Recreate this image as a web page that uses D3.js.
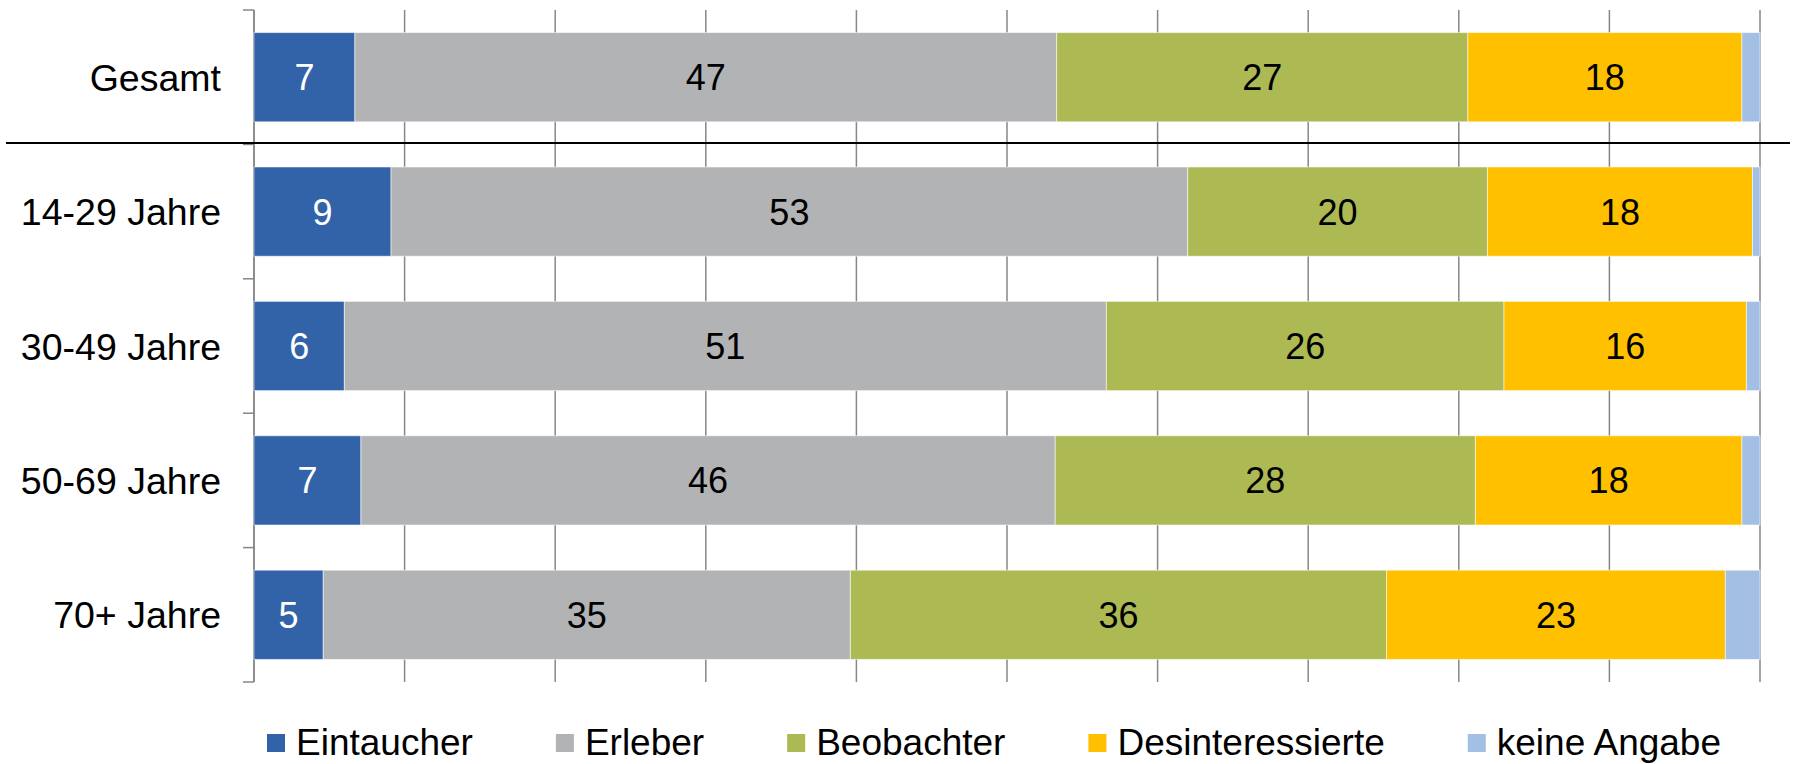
<!DOCTYPE html>
<html>
<head>
<meta charset="utf-8">
<script src="https://cdn.jsdelivr.net/npm/d3@7"></script>
<style>
  body { margin: 0; background: #fff; }
  text { font-family: "Liberation Sans", Arial, sans-serif; }
</style>
</head>
<body>
<script>
const categories = ["Gesamt", "14-29 Jahre", "30-49 Jahre", "50-69 Jahre", "70+ Jahre"];
const seriesNames = ["Eintaucher", "Erleber", "Beobachter", "Desinteressierte", "keine Angabe"];
const eintaucher = [6.7, 9.1, 6.0, 7.1, 4.6];
const erleber = [46.6, 52.9, 50.6, 46.1, 35.0];
const beobachter = [27.3, 19.9, 26.4, 27.9, 35.6];
const desinteressierte = [18.2, 17.6, 16.1, 17.7, 22.5];
const keineAngabe = [1.2, 0.5, 0.9, 1.2, 2.3];
const xTicks = [0, 10, 20, 30, 40, 50, 60, 70, 80, 90, 100];

const colors = ["#3263A8", "#B2B3B5", "#ADB953", "#FFC000", "#A4BFE4"];
const labelColors = ["#fff", "#000", "#000", "#000", null];

const W = 1794, H = 764;
const margin = { top: 10, bottom: 82, left: 254, right: 34 };

const svg = d3.select("body").append("svg")
  .attr("width", W)
  .attr("height", H);

// table for the stack
const allSeries = [eintaucher, erleber, beobachter, desinteressierte, keineAngabe];
const rows = categories.map((c, i) => {
  const r = { cat: c };
  seriesNames.forEach((s, j) => { r[s] = allSeries[j][i]; });
  return r;
});
const stacked = d3.stack().keys(seriesNames)(rows);

// scales
const x = d3.scaleLinear().domain([0, 100]).range([margin.left, W - margin.right]);
const y = d3.scaleBand().domain(categories)
  .range([margin.top, H - margin.bottom])
  .paddingInner(0.336)
  .paddingOuter(0.168);

// vertical gridlines
svg.append("g")
  .selectAll("line")
  .data(xTicks)
  .join("line")
  .attr("x1", d => x(d))
  .attr("x2", d => x(d))
  .attr("y1", margin.top)
  .attr("y2", H - margin.bottom)
  .attr("stroke", "#878787")
  .attr("stroke-width", 1.5);

// left axis with category boundary ticks
const bounds = categories.map(c => y(c) - y.step() * y.paddingInner() / 2);
bounds.push(H - margin.bottom);
bounds[0] = margin.top;
const axisG = svg.append("g");
axisG.append("line")
  .attr("x1", x(0)).attr("x2", x(0))
  .attr("y1", margin.top).attr("y2", H - margin.bottom)
  .attr("stroke", "#878787").attr("stroke-width", 1.5);
axisG.selectAll("line.tick")
  .data(bounds)
  .join("line")
  .attr("class", "tick")
  .attr("x1", x(0) - 11).attr("x2", x(0))
  .attr("y1", d => d).attr("y2", d => d)
  .attr("stroke", "#878787").attr("stroke-width", 1.5);

// bars
const layer = svg.append("g")
  .selectAll("g")
  .data(stacked)
  .join("g")
  .attr("fill", (d, i) => colors[i]);

layer.selectAll("rect")
  .data(d => d)
  .join("rect")
  .attr("x", d => x(d[0]))
  .attr("width", d => x(d[1]) - x(d[0]))
  .attr("y", d => y(d.data.cat))
  .attr("height", y.bandwidth())
  .attr("stroke", "rgba(255,255,255,0.55)")
  .attr("stroke-width", 1);

// value labels
stacked.forEach((s, i) => {
  if (!labelColors[i]) return;
  svg.append("g")
    .selectAll("text")
    .data(s)
    .join("text")
    .attr("x", d => (x(d[0]) + x(d[1])) / 2)
    .attr("y", d => y(d.data.cat) + y.bandwidth() / 2)
    .attr("dy", "0.36em")
    .attr("text-anchor", "middle")
    .attr("font-size", 36)
    .attr("fill", labelColors[i])
    .text(d => Math.round(d[1] - d[0]));
});

// category labels
svg.append("g")
  .selectAll("text")
  .data(categories)
  .join("text")
  .attr("x", 221)
  .attr("y", d => y(d) + y.bandwidth() / 2)
  .attr("dy", "0.36em")
  .attr("text-anchor", "end")
  .attr("font-size", 37.5)
  .attr("fill", "#000")
  .text(d => d);

// separator under Gesamt
svg.append("line")
  .attr("x1", 6).attr("x2", 1790)
  .attr("y1", bounds[1] - 1.5).attr("y2", bounds[1] - 1.5)
  .attr("stroke", "#000").attr("stroke-width", 2);

// legend
const legend = svg.append("g");
let lx = 267;
seriesNames.forEach((name, i) => {
  const item = legend.append("g").attr("transform", `translate(${lx},0)`);
  item.append("rect")
    .attr("x", 0).attr("y", 734)
    .attr("width", 18).attr("height", 18)
    .attr("fill", colors[i]);
  const t = item.append("text")
    .attr("x", 29).attr("y", 755)
    .attr("font-size", 37)
    .attr("fill", "#000")
    .text(name);
  lx += 29 + t.node().getComputedTextLength() + 83;
});
</script>
</body>
</html>
